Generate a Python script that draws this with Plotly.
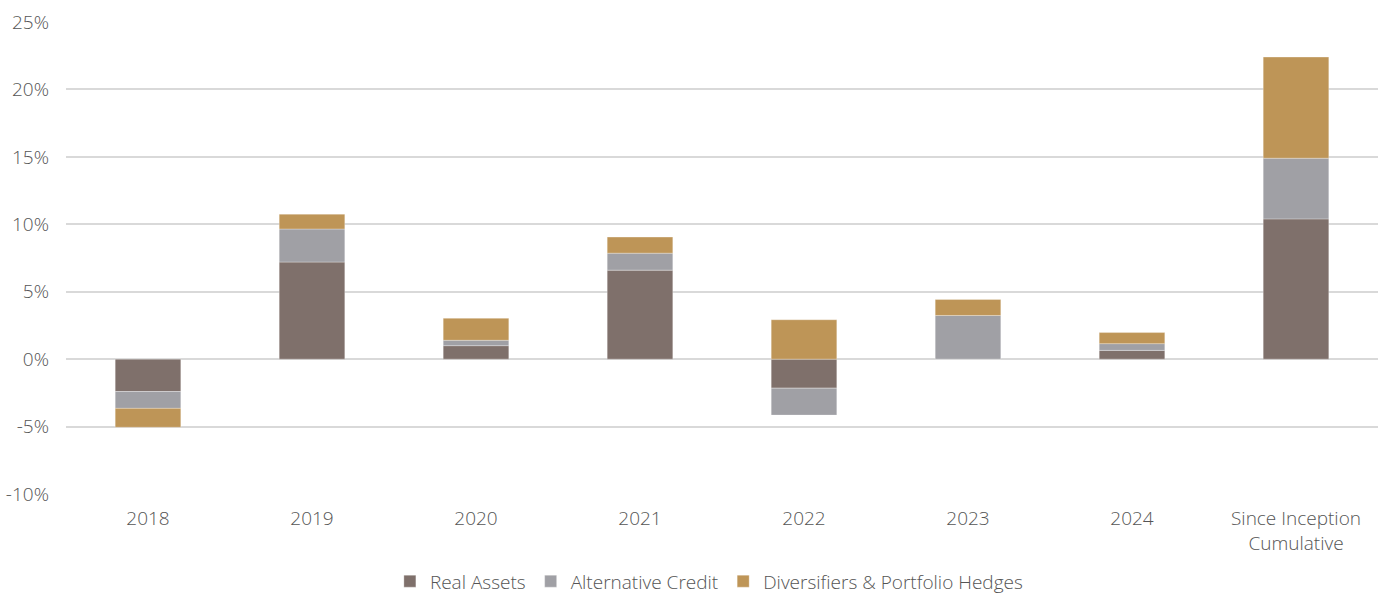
import plotly.graph_objects as go

categories = ["2018", "2019", "2020", "2021", "2022", "2023", "2024", "Since Inception<br>Cumulative"]
real_assets = [-2.4, 7.2, 1.0, 6.6, -2.15, 0.0, 0.65, 10.4]
alternative_credit = [-1.25, 2.45, 0.4, 1.26, -2.0, 3.24, 0.5, 4.5]
diversifiers = [-1.4, 1.1, 1.63, 1.19, 2.92, 1.18, 0.82, 7.5]
y_ticks = [-10, -5, 0, 5, 10, 15, 20, 25]
y_tick_labels = ["-10%", "-5%", "0%", "5%", "10%", "15%", "20%", "25%"]

series = [
    ("Real Assets", real_assets, "#7f706b"),
    ("Alternative Credit", alternative_credit, "#a0a0a5"),
    ("Diversifiers & Portfolio Hedges", diversifiers, "#be9557"),
]

fig = go.Figure()
for name, vals, color in series:
    fig.add_trace(go.Bar(
        x=categories, y=vals, name=name,
        marker=dict(color=color, line=dict(color="rgba(255,255,255,0.6)", width=0.5)),
        width=0.4,
    ))

font_family = "'Open Sans', Lato, sans-serif"
fnt = dict(family=font_family, size=19, color="#555555", weight=300)
fig.update_layout(
    barmode="relative",
    width=1384, height=599,
    margin=dict(l=66, r=6, t=22, b=105, autoexpand=False),
    plot_bgcolor="white", paper_bgcolor="white",
    font=fnt,
    showlegend=True,
    legend=dict(orientation="h", x=0.49, xanchor="center", y=-0.185, yanchor="middle",
                font=dict(family=font_family, size=19, color="#555555", weight=300),
                traceorder="normal", itemwidth=30),
    xaxis=dict(showgrid=False, showline=False, ticks="", tickfont=fnt,
               automargin=False, ticklabelstandoff=11),
    yaxis=dict(range=[-10, 25], tickvals=y_ticks, ticktext=y_tick_labels,
               showgrid=True, gridcolor="#d9d9d9", gridwidth=2,
               zeroline=True, zerolinecolor="#d9d9d9", zerolinewidth=2,
               showline=False, ticks="", ticklabelstandoff=16, tickfont=fnt,
               automargin=False),
)

fig.write_html("out.html", post_script="document.body.style.margin='0';",
               config={"displayModeBar": False})
